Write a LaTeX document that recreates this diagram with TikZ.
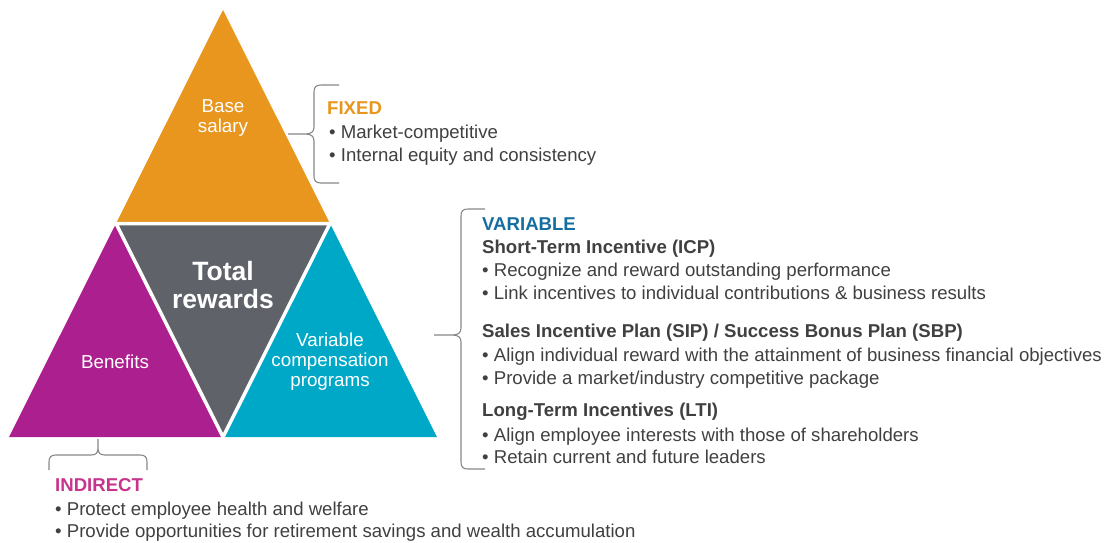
\documentclass[tikz,border=0pt]{standalone}
\usepackage{fontspec}
\setmainfont{Liberation Sans}
\definecolor{basecol}{RGB}{232,150,30}
\definecolor{benefitcol}{RGB}{172,31,142}
\definecolor{totalcol}{RGB}{95,99,105}
\definecolor{varcol}{RGB}{0,168,200}
\definecolor{headblue}{RGB}{22,110,160}
\definecolor{headpink}{RGB}{200,52,140}
\definecolor{txtgray}{RGB}{64,64,64}
\definecolor{bracegray}{RGB}{135,135,135}
\newcommand{\bul}{\textbullet\ }
\begin{document}
\begin{tikzpicture}[x=1pt,y=-1pt,
  txt/.style={anchor=base west,inner sep=0pt,text=txtgray,font=\fontsize{18.6}{20}\selectfont},
  head/.style={txt,font=\fontsize{18.6}{20}\selectfont\bfseries},
  intri/.style={text=white,align=center,inner sep=0pt,font=\fontsize{18.8}{20}\selectfont},
  bracepath/.style={draw=bracegray,line width=1.1pt}]
\useasboundingbox (0,0) rectangle (1113,542);

\coordinate (A) at (9,437);
\coordinate (B) at (437,437);
\coordinate (C) at (223,10);
\coordinate (L) at (116,223.5);
\coordinate (R) at (330,223.5);
\coordinate (M) at (223,437);

\fill[basecol] (C) -- (L) -- (R) -- cycle;
\fill[benefitcol] (L) -- (A) -- (M) -- cycle;
\fill[varcol] (R) -- (M) -- (B) -- cycle;
\fill[totalcol] (L) -- (R) -- (M) -- cycle;
\draw[white,line width=3.5pt] (L) -- (R) -- (M) -- cycle;

\node (base) at (223,118) [intri] {Base\\salary};
\node (total) at (223,285) [intri,font=\fontsize{26.5}{28}\selectfont\bfseries] {Total\\rewards};
\node (benefits) at (115,362) [intri] {Benefits};
\node (variable) at (330,362) [intri] {Variable\\compensation\\programs};

% braces
\draw[bracepath] (339,85) -- (321,85) .. controls (316,85) and (314,87) .. (314,92)
  -- (314,127) .. controls (314,132) and (311,134) .. (305,134) -- (288,134)
  (305,134) .. controls (311,134) and (314,136) .. (314,141)
  -- (314,176) .. controls (314,181) and (316,183) .. (321,183) -- (339,183);
\draw[bracepath] (485,209) -- (468,209) .. controls (463,209) and (461,211) .. (461,216)
  -- (461,328) .. controls (461,333) and (458,335) .. (452,335) -- (434,335)
  (452,335) .. controls (458,335) and (461,337) .. (461,342)
  -- (461,462) .. controls (461,467) and (463,469) .. (468,469) -- (485,469);
\draw[bracepath] (49,470) -- (49,462) .. controls (49,457) and (51,455) .. (56,455)
  -- (91,455) .. controls (96,455) and (98,453) .. (98,448) -- (98,439)
  (98,448) .. controls (98,453) and (100,455) .. (105,455)
  -- (140,455) .. controls (145,455) and (147,457) .. (147,462) -- (147,470);

% fixed
\node (fixed) at (327,114) [head,text=basecol] {FIXED};
\node (fixed1) at (329,138) [txt] {\bul Market-competitive};
\node (fixed2) at (329,161) [txt] {\bul Internal equity and consistency};

% variable
\node (var) at (482,230) [head,text=headblue] {VARIABLE};
\node (sti) at (482,253) [head,text=txtgray] {Short-Term Incentive (ICP)};
\node (sti1) at (482,276) [txt] {\bul Recognize and reward outstanding performance};
\node (sti2) at (482,299) [txt] {\bul Link incentives to individual contributions \& business results};
\node (sip) at (482,337) [head,text=txtgray] {Sales Incentive Plan (SIP) / Success Bonus Plan (SBP)};
\node (sip1) at (482,361) [txt] {\bul Align individual reward with the attainment of business financial objectives};
\node (sip2) at (482,384) [txt] {\bul Provide a market/industry competitive package};
\node (lti) at (482,416) [head,text=txtgray] {Long-Term Incentives (LTI)};
\node (lti1) at (482,441) [txt] {\bul Align employee interests with those of shareholders};
\node (lti2) at (482,463) [txt] {\bul Retain current and future leaders};

% indirect
\node (indirect) at (55,491) [head,text=headpink] {INDIRECT};
\node (ind1) at (55,515) [txt] {\bul Protect employee health and welfare};
\node (ind2) at (55,537) [txt] {\bul Provide opportunities for retirement savings and wealth accumulation};
\end{tikzpicture}
\end{document}
